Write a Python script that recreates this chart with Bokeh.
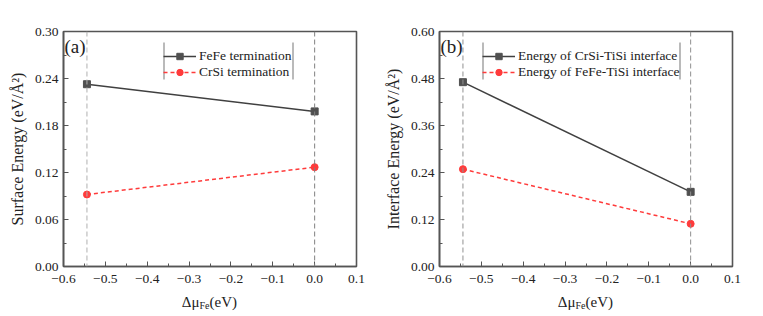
from bokeh.plotting import figure
from bokeh.models import Range1d, FixedTicker, Span, Legend, LegendItem, Label, BoxAnnotation
from bokeh.layouts import row, column
from bokeh.core.properties import value
from bokeh.embed import file_html
from bokeh.resources import INLINE

# ---- data ----
mu_fe = [-0.544, 0.0]
fefe_term = [0.2327, 0.1980]
crsi_term = [0.0919, 0.1268]
crsi_tisi = [0.4706, 0.1906]
fefe_tisi = [0.2485, 0.1090]

x_ticks = [-0.6, -0.5, -0.4, -0.3, -0.2, -0.1, 0.0, 0.1]
x_tick_labels = ["\u22120.6", "\u22120.5", "\u22120.4", "\u22120.3", "\u22120.2", "\u22120.1", "0.0", "0.1"]
y_ticks_a = [0.00, 0.06, 0.12, 0.18, 0.24, 0.30]
y_tick_labels_a = ["0.00", "0.06", "0.12", "0.18", "0.24", "0.30"]
y_ticks_b = [0.00, 0.12, 0.24, 0.36, 0.48, 0.60]
y_tick_labels_b = ["0.00", "0.12", "0.24", "0.36", "0.48", "0.60"]

FONT = "Liberation Serif"
AXC = "#555555"
TXT = "#222222"
FW, FH = 293, 235
TOP, BOT = 31, 24


def mids(t):
    return [(a + b) / 2 for a, b in zip(t[:-1], t[1:])]


def panel(y_ticks, y_labels, ylabel, tag, s1, s2, names, left_border, right_border,
          leg_x, leg_bar_r, span_colors):
    p = figure(width=left_border + FW + right_border, height=TOP + FH + BOT,
               x_range=Range1d(x_ticks[0], x_ticks[-1]),
               y_range=Range1d(y_ticks[0], y_ticks[-1]),
               output_backend="svg", toolbar_location=None,
               min_border_left=left_border, min_border_right=right_border,
               min_border_top=TOP, min_border_bottom=BOT)
    p.grid.visible = False
    p.outline_line_color = AXC
    p.outline_line_width = 1.6

    p.xaxis.ticker = FixedTicker(ticks=x_ticks, minor_ticks=mids(x_ticks))
    p.xaxis.major_label_overrides = {t: l for t, l in zip(x_ticks, x_tick_labels)}
    p.yaxis.ticker = FixedTicker(ticks=y_ticks, minor_ticks=mids(y_ticks))
    p.yaxis.major_label_overrides = {t: l for t, l in zip(y_ticks, y_labels)}
    for ax in (p.xaxis, p.yaxis):
        ax.axis_line_color = AXC
        ax.axis_line_width = 1.6
        ax.major_tick_line_color = AXC
        ax.minor_tick_line_color = AXC
        ax.major_tick_in = 5
        ax.major_tick_out = 0
        ax.minor_tick_in = 3
        ax.minor_tick_out = 0
        ax.major_label_text_font = FONT
        ax.major_label_text_font_size = "13.5px"
        ax.major_label_text_color = TXT
        ax.axis_label_text_font = FONT
        ax.axis_label_text_font_size = "16px"
        ax.axis_label_text_font_style = "normal"
        ax.axis_label_text_color = TXT
    p.xaxis.major_label_standoff = 8
    p.yaxis.major_label_standoff = 5
    p.yaxis.axis_label = ylabel
    p.yaxis.axis_label_standoff = 6

    for xv, c in zip(mu_fe, span_colors):
        p.add_layout(Span(location=xv, dimension="height", line_color=c,
                          line_dash="5 3", line_width=1))

    l1 = p.line(mu_fe, s1, line_color="#404040", line_width=1.5)
    m1 = p.scatter(mu_fe, s1, marker="square", size=7, fill_color="#505050",
                   line_color="#505050")
    l2 = p.line(mu_fe, s2, line_color="#ff3b3b", line_width=1.5, line_dash="4 3")
    m2 = p.scatter(mu_fe, s2, marker="circle", size=7, fill_color="#ff3b3b",
                   line_color="#ff3b3b")

    leg = Legend(items=[LegendItem(label=names[0], renderers=[l1, m1]),
                        LegendItem(label=names[1], renderers=[l2, m2])],
                 location=(leg_x, 186), padding=2, spacing=0, margin=0,
                 glyph_width=33, glyph_height=16, label_height=16,
                 label_standoff=3, label_text_font=FONT,
                 label_text_font_size="13.5px", label_text_color=TXT,
                 border_line_color=None, background_fill_alpha=0)
    p.add_layout(leg, "center")
    for bx in (leg_x, leg_bar_r):
        p.add_layout(BoxAnnotation(left=bx, right=bx + 1, bottom=187, top=224,
                                   left_units="screen", right_units="screen",
                                   top_units="screen", bottom_units="screen",
                                   fill_color="#777777", fill_alpha=1, line_color=None))

    p.add_layout(Label(x=1, y=FH - 4, x_units="screen", y_units="screen", text=tag,
                       text_font=FONT, text_font_size="19px", text_baseline="top",
                       text_color=TXT))
    return p


LB_A, RB_A = 63, 24
LB_B, RB_B = 59, 16

pa = panel(y_ticks_a, y_tick_labels_a, "Surface Energy (eV/\u00c5\u00b2)", "(a)",
           fefe_term, crsi_term, ["FeFe termination", "CrSi termination"],
           LB_A, RB_A, 100, 229, ["#b0b0b0", "#808080"])
pb = panel(y_ticks_b, y_tick_labels_b, "Interface Energy (eV/\u00c5\u00b2)", "(b)",
           crsi_tisi, fefe_tisi,
           ["Energy of CrSi-TiSi interface", "Energy of FeFe-TiSi interface"],
           LB_B, RB_B, 43, 240, ["#909090", "#909090"])

# strip below the panels carrying the x-axis titles  Δμ_Fe(eV)
total_w = pa.width + pb.width
LAB_H = 26
lab = figure(width=total_w, height=LAB_H, x_range=Range1d(0, total_w),
             y_range=Range1d(0, LAB_H), x_axis_type=None, y_axis_type=None,
             output_backend="svg", toolbar_location=None, min_border=0)
lab.grid.visible = False
lab.outline_line_color = None
centers = [LB_A + FW / 2, pa.width + LB_B + FW / 2]
xs_main = [c - 10.5 for c in centers]
lab.text(x=xs_main, y=[15, 15], text=["\u0394\u03bc", "\u0394\u03bc"],
         text_font=value(FONT), text_font_size=value("15px"), text_align="right",
         text_baseline="alphabetic", text_color=TXT)
lab.text(x=xs_main, y=[11, 11], text=["Fe", "Fe"],
         text_font=value(FONT), text_font_size=value("10px"), text_align="left",
         text_baseline="alphabetic", text_color=TXT)
lab.text(x=[x + 10 for x in xs_main], y=[15, 15], text=["(eV)", "(eV)"],
         text_font=value(FONT), text_font_size=value("15px"), text_align="left",
         text_baseline="alphabetic", text_color=TXT)

layout = column(row(pa, pb), lab)
open("out.html", "w").write(file_html(layout, INLINE))
